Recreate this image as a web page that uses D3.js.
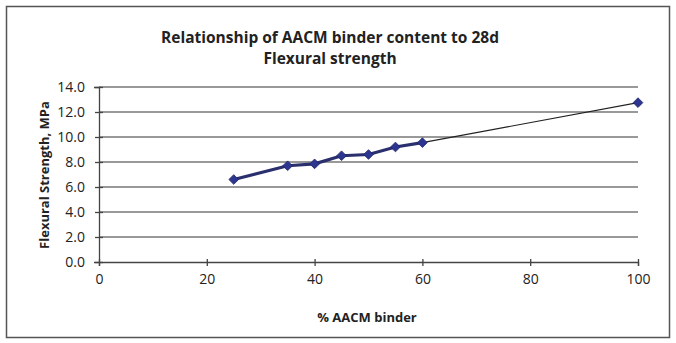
<!DOCTYPE html>
<html><head><meta charset="utf-8">
<script src="https://cdn.jsdelivr.net/npm/d3@7"></script>
<style>body{margin:0;background:#fff}svg{display:block}text{font-family:"Open Sans",sans-serif}</style>
</head><body>
<script>
const binder = [25, 35, 40, 45, 50, 55, 60, 100];
const strength = [6.6, 7.7, 7.85, 8.5, 8.6, 9.2, 9.55, 12.75];
const xTicks = [0, 20, 40, 60, 80, 100];
const yTicks = [0, 2, 4, 6, 8, 10, 12, 14];
const title = ["Relationship of AACM binder content to 28d", "Flexural strength"];

const W = 676, H = 343;
const svg = d3.select("body").append("svg").attr("width", W).attr("height", H);
svg.append("rect").attr("x", 6.5).attr("y", 6.5).attr("width", 663).attr("height", 331)
  .attr("fill", "#fff").attr("stroke", "#555").attr("stroke-width", 1.5);

const x = d3.scaleLinear().domain([0, 100]).range([99, 638]);
const y = d3.scaleLinear().domain([0, 14]).range([262, 87]);

// gridlines
svg.append("g").selectAll("line").data(yTicks.filter(d => d > 0)).join("line")
  .attr("x1", x(0)).attr("x2", x(100)).attr("y1", d => y(d)).attr("y2", d => y(d))
  .attr("stroke", "#777").attr("stroke-width", 1.3);

const yAxis = svg.append("g").attr("transform", `translate(${x(0)},0)`)
  .call(d3.axisLeft(y).tickValues(yTicks).tickFormat(d3.format(".1f")).tickSize(5).tickPadding(9));
const xAxis = svg.append("g").attr("transform", `translate(0,${y(0)})`)
  .call(d3.axisBottom(x).tickValues(xTicks).tickSize(4).tickPadding(8));
yAxis.selectAll(".tick line").attr("x2", 4).attr("x1", -4);
xAxis.selectAll(".tick line").attr("y1", -3).attr("y2", 4);
[yAxis, xAxis].forEach(g => {
  g.select(".domain").attr("stroke", "#444").attr("stroke-width", 1.3);
  g.selectAll(".tick line").attr("stroke", "#444").attr("stroke-width", 1.3);
  g.selectAll("text").attr("font-size", 14).attr("fill", "#222");
});

const pts = binder.map((b, i) => [b, strength[i]]);
const line = d3.line().x(d => x(d[0])).y(d => y(d[1]));
svg.append("path").attr("d", line(pts)).attr("fill", "none").attr("stroke", "#222").attr("stroke-width", 1.2);
svg.append("path").attr("d", line(pts.filter(d => d[0] <= 60))).attr("fill", "none")
  .attr("stroke", "#2a2f6e").attr("stroke-width", 3.2);
svg.append("g").selectAll("path").data(pts).join("path")
  .attr("d", d3.symbol(d3.symbolDiamond2, 60))
  .attr("transform", d => `translate(${x(d[0])},${y(d[1])})`)
  .attr("fill", "#2c3590").attr("stroke", "#1f2566").attr("stroke-width", 0.8);

svg.append("g").selectAll("text").data(title).join("text")
  .attr("x", 330).attr("y", (d, i) => 43 + i * 21).attr("text-anchor", "middle")
  .attr("font-size", 15.5).attr("font-weight", "bold").attr("fill", "#222").text(d => d);

svg.append("text").attr("transform", `translate(49,175) rotate(-90)`).attr("text-anchor", "middle")
  .attr("font-size", 13).attr("font-weight", "bold").attr("fill", "#222").text("Flexural Strength, MPa");
svg.append("text").attr("x", 367).attr("y", 322).attr("text-anchor", "middle")
  .attr("font-size", 13).attr("font-weight", "bold").attr("fill", "#222").text("% AACM binder");
</script>
</body></html>
